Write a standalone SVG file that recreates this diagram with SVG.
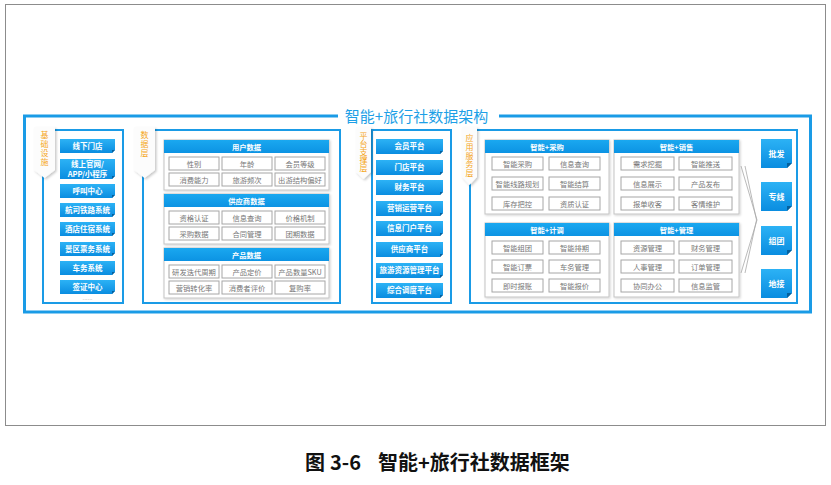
<svg xmlns="http://www.w3.org/2000/svg" width="831" height="485" viewBox="0 0 831 485">
<defs>
<linearGradient id="btn" x1="0" y1="0" x2="0" y2="1"><stop offset="0" stop-color="#2cb2f5"/><stop offset="1" stop-color="#0a8de0"/></linearGradient>
<linearGradient id="hdg" x1="0" y1="0" x2="0" y2="1"><stop offset="0" stop-color="#1aa8f0"/><stop offset="1" stop-color="#0c93e3"/></linearGradient>
<filter id="sh" x="-40%" y="-20%" width="180%" height="140%"><feDropShadow dx="1.5" dy="1.5" stdDeviation="1.2" flood-color="#000" flood-opacity="0.22"/></filter>
<filter id="sh2" x="-10%" y="-10%" width="120%" height="130%"><feDropShadow dx="1" dy="1" stdDeviation="0.8" flood-color="#000" flood-opacity="0.18"/></filter>
</defs>
<style>
.cn{font-family:"Noto Sans CJK SC","Liberation Sans",sans-serif}
.bt{fill:url(#btn)}
.fold{fill:#05609c}
.bl{font-family:"Noto Sans CJK SC","Liberation Sans",sans-serif;font-size:7.5px;font-weight:bold;fill:#fff;text-anchor:middle}
.br{font-family:"Noto Sans CJK SC","Liberation Sans",sans-serif;font-size:8px;font-weight:bold;fill:#fff;text-anchor:middle}
.sec{fill:#fff;stroke:#1a9be6;stroke-width:2}
.tab{fill:#fcfcfc;filter:url(#sh)}
.tt{font-family:"Noto Sans CJK SC","Liberation Sans",sans-serif;font-size:8px;fill:#f5a623;writing-mode:vertical-rl;text-anchor:start}
.grp{fill:#fff;stroke:#c4c4c4;stroke-width:1;filter:url(#sh2)}
.hd{fill:url(#hdg)}
.ht{font-family:"Noto Sans CJK SC","Liberation Sans",sans-serif;font-size:7.3px;font-weight:bold;fill:#fff;text-anchor:middle}
.cell{fill:#fff;stroke:#a6a6a6;stroke-width:1}
.ct{font-family:"Noto Sans CJK SC","Liberation Sans",sans-serif;font-size:7.3px;fill:#777;text-anchor:middle}
</style>
<rect x="0" y="0" width="831" height="485" fill="#fff"/>
<rect x="5.5" y="4.5" width="820" height="421" fill="#fff" stroke="#8c8c8c" stroke-width="1"/>

<!-- outer frame and title -->
<g id="frame">
<rect x="24.5" y="116" width="786" height="196" fill="#fff" stroke="#1a9be6" stroke-width="3"/>
<rect x="338" y="110" width="161" height="12" fill="#fff"/>
<text x="416.5" y="121.5" class="cn" font-size="15" fill="#1d9fe6" text-anchor="middle">智能+旅行社数据架构</text>
</g>

<!-- Section 1: 基础设施 -->
<g id="sec-infra">
<rect class="sec" x="43" y="130" width="80" height="173"/>
<path class="tab" d="M34,127h21v43l-10.5,8l-10.5,-8z"/>
<text class="tt" x="44.5" y="131" letter-spacing="1">基础设施</text>
<g id="b-store"><path class="bt" d="M60,139h55v11l-3,3h-52z"/><path class="fold" d="M112,153v-3h3z"/><text class="bl" x="87.5" y="148.6">线下门店</text></g>
<g id="b-online"><path class="bt" d="M60,159h55v17l-3,3h-52z"/><path class="fold" d="M112,179v-3h3z"/><text class="bl" y="166.8" font-size="6.8"><tspan x="87.5">线上官网/</tspan><tspan x="87.5" dy="10">APP/小程序</tspan></text></g>
<g id="b-call"><path class="bt" d="M60,184h55v11l-3,3h-52z"/><path class="fold" d="M112,198v-3h3z"/><text class="bl" x="87.5" y="193.6">呼叫中心</text></g>
<g id="b-air"><path class="bt" d="M60,203h55v11l-3,3h-52z"/><path class="fold" d="M112,217v-3h3z"/><text class="bl" x="87.5" y="212.6">航司铁路系统</text></g>
<g id="b-hotel"><path class="bt" d="M60,222h55v11l-3,3h-52z"/><path class="fold" d="M112,236v-3h3z"/><text class="bl" x="87.5" y="231.6">酒店住宿系统</text></g>
<g id="b-ticket"><path class="bt" d="M60,242h55v11l-3,3h-52z"/><path class="fold" d="M112,256v-3h3z"/><text class="bl" x="87.5" y="251.6">景区票务系统</text></g>
<g id="b-car"><path class="bt" d="M60,261h55v11l-3,3h-52z"/><path class="fold" d="M112,275v-3h3z"/><text class="bl" x="87.5" y="270.6">车务系统</text></g>
<g id="b-visa"><path class="bt" d="M60,280h55v11l-3,3h-52z"/><path class="fold" d="M112,294v-3h3z"/><text class="bl" x="87.5" y="289.6">签证中心</text></g>
<text x="87.5" y="299.5" font-family="Liberation Sans,sans-serif" font-size="6" fill="#999" text-anchor="middle">......</text>
</g>

<!-- Section 2: 数据层 -->
<g id="sec-data">
<rect class="sec" x="143" y="130" width="197" height="173"/>
<path class="tab" d="M134,127h21v43l-10.5,8l-10.5,-8z"/>
<text class="tt" x="144.5" y="131" letter-spacing="1">数据层</text>
<g id="g-user">
<rect class="grp" x="164" y="140" width="165" height="50"/>
<rect class="hd" x="164" y="140" width="165" height="13"/>
<text class="ht" x="246.5" y="149.5">用户数据</text>
<rect class="cell" x="169" y="157" width="50" height="13"/><text class="ct" x="194" y="166.5">性别</text>
<rect class="cell" x="222" y="157" width="50" height="13"/><text class="ct" x="247" y="166.5">年龄</text>
<rect class="cell" x="275" y="157" width="50" height="13"/><text class="ct" x="300" y="166.5">会员等级</text>
<rect class="cell" x="169" y="173" width="50" height="13"/><text class="ct" x="194" y="182.5">消费能力</text>
<rect class="cell" x="222" y="173" width="50" height="13"/><text class="ct" x="247" y="182.5">旅游频次</text>
<rect class="cell" x="275" y="173" width="50" height="13"/><text class="ct" x="300" y="182.5">出游结构偏好</text>
</g>
<g id="g-supplier">
<rect class="grp" x="164" y="194" width="165" height="50"/>
<rect class="hd" x="164" y="194" width="165" height="13"/>
<text class="ht" x="246.5" y="203.5">供应商数据</text>
<rect class="cell" x="169" y="211" width="50" height="13"/><text class="ct" x="194" y="220.5">资格认证</text>
<rect class="cell" x="222" y="211" width="50" height="13"/><text class="ct" x="247" y="220.5">信息查询</text>
<rect class="cell" x="275" y="211" width="50" height="13"/><text class="ct" x="300" y="220.5">价格机制</text>
<rect class="cell" x="169" y="227" width="50" height="13"/><text class="ct" x="194" y="236.5">采购数据</text>
<rect class="cell" x="222" y="227" width="50" height="13"/><text class="ct" x="247" y="236.5">合同管理</text>
<rect class="cell" x="275" y="227" width="50" height="13"/><text class="ct" x="300" y="236.5">团期数据</text>
</g>
<g id="g-product">
<rect class="grp" x="164" y="248" width="165" height="50"/>
<rect class="hd" x="164" y="248" width="165" height="13"/>
<text class="ht" x="246.5" y="257.5">产品数据</text>
<rect class="cell" x="169" y="265" width="50" height="13"/><text class="ct" x="194" y="274.5">研发迭代周期</text>
<rect class="cell" x="222" y="265" width="50" height="13"/><text class="ct" x="247" y="274.5">产品定价</text>
<rect class="cell" x="275" y="265" width="50" height="13"/><text class="ct" x="300" y="274.5">产品数量SKU</text>
<rect class="cell" x="169" y="281" width="50" height="13"/><text class="ct" x="194" y="290.5">营销转化率</text>
<rect class="cell" x="222" y="281" width="50" height="13"/><text class="ct" x="247" y="290.5">消费者评价</text>
<rect class="cell" x="275" y="281" width="50" height="13"/><text class="ct" x="300" y="290.5">复购率</text>
</g>
</g>

<!-- Section 3: 平台支撑层 -->
<g id="sec-platform">
<rect class="sec" x="372" y="130" width="79" height="173"/>
<path class="tab" d="M356,127h15v45l-7.5,7l-7.5,-7z"/>
<text class="tt" x="363.5" y="132">平台支撑层</text>
<g id="p1"><path class="bt" d="M376,139h67v12l-3,3h-64z"/><path class="fold" d="M440,154v-3h3z"/><text class="bl" x="409.5" y="149">会员平台</text></g>
<g id="p2"><path class="bt" d="M376,160h67v12l-3,3h-64z"/><path class="fold" d="M440,175v-3h3z"/><text class="bl" x="409.5" y="170">门店平台</text></g>
<g id="p3"><path class="bt" d="M376,180h67v12l-3,3h-64z"/><path class="fold" d="M440,195v-3h3z"/><text class="bl" x="409.5" y="190">财务平台</text></g>
<g id="p4"><path class="bt" d="M376,201h67v12l-3,3h-64z"/><path class="fold" d="M440,216v-3h3z"/><text class="bl" x="409.5" y="211">营销运营平台</text></g>
<g id="p5"><path class="bt" d="M376,221h67v12l-3,3h-64z"/><path class="fold" d="M440,236v-3h3z"/><text class="bl" x="409.5" y="231">信息门户平台</text></g>
<g id="p6"><path class="bt" d="M376,242h67v12l-3,3h-64z"/><path class="fold" d="M440,257v-3h3z"/><text class="bl" x="409.5" y="252">供应商平台</text></g>
<g id="p7"><path class="bt" d="M376,263h67v12l-3,3h-64z"/><path class="fold" d="M440,278v-3h3z"/><text class="bl" x="409.5" y="273">旅游资源管理平台</text></g>
<g id="p8"><path class="bt" d="M376,283h67v12l-3,3h-64z"/><path class="fold" d="M440,298v-3h3z"/><text class="bl" x="409.5" y="293">综合调度平台</text></g>
</g>

<!-- Section 4: 应用服务层 -->
<g id="sec-app">
<rect class="sec" x="470" y="130" width="327" height="173"/>
<path class="tab" d="M462,127h15v50l-7.5,8l-7.5,-8z"/>
<text class="tt" x="469.5" y="134" letter-spacing="0.75">应用服务层</text>
<g id="g-buy">
<rect class="grp" x="485" y="140" width="124" height="74"/>
<rect class="hd" x="485" y="140" width="124" height="13"/>
<text class="ht" x="547" y="149.5">智能+采购</text>
<rect class="cell" x="492" y="157" width="51" height="13"/><text class="ct" x="517.5" y="166.5">智能采购</text>
<rect class="cell" x="549" y="157" width="51" height="13"/><text class="ct" x="574.5" y="166.5">信息查询</text>
<rect class="cell" x="492" y="177" width="51" height="13"/><text class="ct" x="517.5" y="186.5">智能线路规划</text>
<rect class="cell" x="549" y="177" width="51" height="13"/><text class="ct" x="574.5" y="186.5">智能结算</text>
<rect class="cell" x="492" y="197" width="51" height="13"/><text class="ct" x="517.5" y="206.5">库存把控</text>
<rect class="cell" x="549" y="197" width="51" height="13"/><text class="ct" x="574.5" y="206.5">资质认证</text>
</g>
<g id="g-sale">
<rect class="grp" x="614" y="140" width="125" height="74"/>
<rect class="hd" x="614" y="140" width="125" height="13"/>
<text class="ht" x="676.5" y="149.5">智能+销售</text>
<rect class="cell" x="621" y="157" width="53" height="13"/><text class="ct" x="647.5" y="166.5">需求挖掘</text>
<rect class="cell" x="679" y="157" width="53" height="13"/><text class="ct" x="705.5" y="166.5">智能推送</text>
<rect class="cell" x="621" y="177" width="53" height="13"/><text class="ct" x="647.5" y="186.5">信息展示</text>
<rect class="cell" x="679" y="177" width="53" height="13"/><text class="ct" x="705.5" y="186.5">产品发布</text>
<rect class="cell" x="621" y="197" width="53" height="13"/><text class="ct" x="647.5" y="206.5">报单收客</text>
<rect class="cell" x="679" y="197" width="53" height="13"/><text class="ct" x="705.5" y="206.5">客情维护</text>
</g>
<g id="g-plan">
<rect class="grp" x="485" y="223" width="124" height="74"/>
<rect class="hd" x="485" y="223" width="124" height="13"/>
<text class="ht" x="547" y="232.5">智能+计调</text>
<rect class="cell" x="492" y="241" width="51" height="13"/><text class="ct" x="517.5" y="250.5">智能组团</text>
<rect class="cell" x="549" y="241" width="51" height="13"/><text class="ct" x="574.5" y="250.5">智能排期</text>
<rect class="cell" x="492" y="260" width="51" height="13"/><text class="ct" x="517.5" y="269.5">智能订票</text>
<rect class="cell" x="549" y="260" width="51" height="13"/><text class="ct" x="574.5" y="269.5">车务管理</text>
<rect class="cell" x="492" y="279" width="51" height="13"/><text class="ct" x="517.5" y="288.5">即时报账</text>
<rect class="cell" x="549" y="279" width="51" height="13"/><text class="ct" x="574.5" y="288.5">智能报价</text>
</g>
<g id="g-manage">
<rect class="grp" x="614" y="223" width="125" height="74"/>
<rect class="hd" x="614" y="223" width="125" height="13"/>
<text class="ht" x="676.5" y="232.5">智能+管理</text>
<rect class="cell" x="621" y="241" width="53" height="13"/><text class="ct" x="647.5" y="250.5">资源管理</text>
<rect class="cell" x="679" y="241" width="53" height="13"/><text class="ct" x="705.5" y="250.5">财务管理</text>
<rect class="cell" x="621" y="260" width="53" height="13"/><text class="ct" x="647.5" y="269.5">人事管理</text>
<rect class="cell" x="679" y="260" width="53" height="13"/><text class="ct" x="705.5" y="269.5">订单管理</text>
<rect class="cell" x="621" y="279" width="53" height="13"/><text class="ct" x="647.5" y="288.5">协同办公</text>
<rect class="cell" x="679" y="279" width="53" height="13"/><text class="ct" x="705.5" y="288.5">信息监管</text>
</g>
<g id="r-wholesale"><path class="bt" d="M761,139h31v24l-5,5h-26z"/><path class="fold" d="M787,168v-5h5z"/><text class="br" x="776.5" y="156.5">批发</text></g>
<g id="r-line"><path class="bt" d="M761,182h31v24l-5,5h-26z"/><path class="fold" d="M787,211v-5h5z"/><text class="br" x="776.5" y="199.5">专线</text></g>
<g id="r-group"><path class="bt" d="M761,226h31v24l-5,5h-26z"/><path class="fold" d="M787,255v-5h5z"/><text class="br" x="776.5" y="243.5">组团</text></g>
<g id="r-local"><path class="bt" d="M761,269h31v24l-5,5h-26z"/><path class="fold" d="M787,298v-5h5z"/><text class="br" x="776.5" y="286.5">地接</text></g>
</g>

<!-- connectors -->
<g id="connectors" fill="none" stroke="#a8a8a8" stroke-width="0.8">
<path d="M741,166L757,220L741,273"/>
<path d="M745,166L756.5,220L745,273"/>
</g>

<!-- caption -->
<text y="470" font-family="Noto Sans CJK SC,Liberation Sans,sans-serif" font-size="20" font-weight="bold" fill="#111"><tspan x="305">图</tspan><tspan x="330">3-6</tspan><tspan x="378">智能+旅行社数据框架</tspan></text>
</svg>
